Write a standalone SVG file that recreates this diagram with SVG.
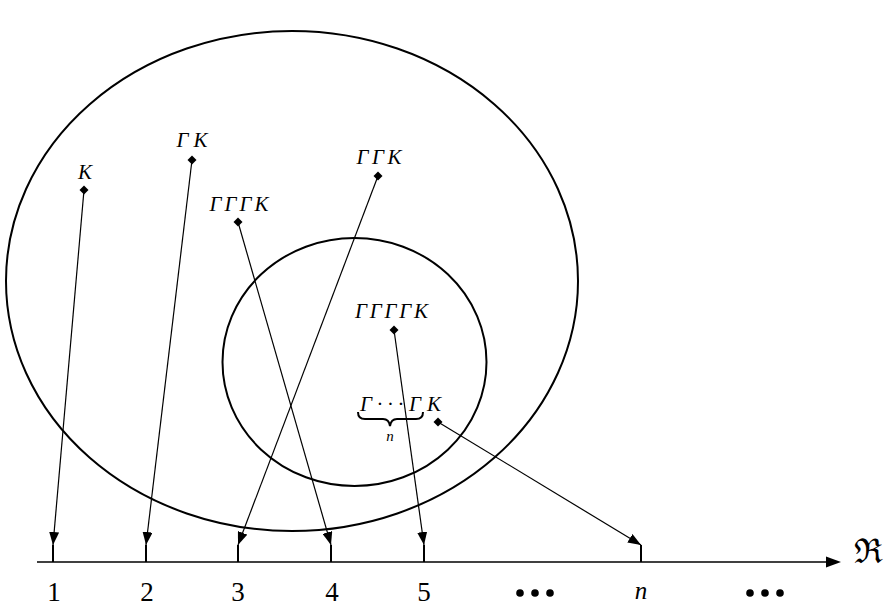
<svg xmlns="http://www.w3.org/2000/svg" width="888" height="609" viewBox="0 0 888 609">
<style>
.t{font-family:"Liberation Serif","Times New Roman","DejaVu Serif",serif;font-style:italic;font-size:21px;fill:#000;text-anchor:middle}
.num{font-family:"Liberation Serif","Times New Roman","DejaVu Serif",serif;font-size:27px;fill:#000;text-anchor:middle}
.c{fill:none;stroke:#000;stroke-width:2}
.l{stroke:#000;stroke-width:1.2;fill:none}
.tick{stroke:#000;stroke-width:2}
</style>
<defs>
<marker id="ah" viewBox="0 0 13 10" refX="13" refY="5" markerWidth="13" markerHeight="10" markerUnits="userSpaceOnUse" orient="auto">
<path d="M0,0 L13,5 L0,10 Z" fill="#000"/>
</marker>
<path id="dm" d="M0,-4.5 L4.5,0 L0,4.5 L-4.5,0 Z" fill="#000"/>
</defs>
<rect width="888" height="609" fill="#fff"/>
<g id="sets">
<ellipse class="c" cx="292" cy="281" rx="286" ry="250"/>
<ellipse class="c" cx="354.5" cy="362" rx="132" ry="124"/>
</g>
<g id="axis">
<line x1="37" y1="562" x2="832" y2="562" stroke="#000" stroke-width="1.5"/>
<path d="M826,556.5 L841,562 L826,567.5 Z" fill="#000"/>
<text x="868" y="563" font-family="'DejaVu Serif',serif" font-size="34" text-anchor="middle">ℜ</text>
<line class="tick" x1="53" y1="545" x2="53" y2="562"/>
<line class="tick" x1="146" y1="545" x2="146" y2="562"/>
<line class="tick" x1="238" y1="545" x2="238" y2="562"/>
<line class="tick" x1="331" y1="545" x2="331" y2="562"/>
<line class="tick" x1="424" y1="545" x2="424" y2="562"/>
<line class="tick" x1="641" y1="545" x2="641" y2="562"/>
<text class="num" x="54" y="601">1</text>
<text class="num" x="147" y="601">2</text>
<text class="num" x="238" y="601">3</text>
<text class="num" x="332" y="601">4</text>
<text class="num" x="424" y="601">5</text>
<g fill="#000"><circle cx="520" cy="593" r="3.8"/><circle cx="535" cy="593" r="3.8"/><circle cx="550" cy="593" r="3.8"/><circle cx="750" cy="593" r="3.8"/><circle cx="765" cy="593" r="3.8"/><circle cx="780" cy="593" r="3.8"/></g>
<text class="t" x="641" y="599" style="font-size:25px">n</text>
</g>
<g id="connectors">
<line class="l" x1="84" y1="190" x2="53" y2="545" marker-end="url(#ah)"/>
<line class="l" x1="192" y1="160" x2="146" y2="545" marker-end="url(#ah)"/>
<line class="l" x1="378" y1="176" x2="238" y2="545" marker-end="url(#ah)"/>
<line class="l" x1="238" y1="222" x2="331" y2="545" marker-end="url(#ah)"/>
<line class="l" x1="394" y1="330" x2="424" y2="545" marker-end="url(#ah)"/>
<line class="l" x1="438" y1="422" x2="641" y2="545" marker-end="url(#ah)"/>
</g>
<g id="n-K"><use href="#dm" x="84" y="190"/><text class="t" x="85" y="179" textLength="17" lengthAdjust="spacing">K</text></g>
<g id="n-GK"><use href="#dm" x="192" y="160"/><text class="t" x="192" y="147" textLength="31" lengthAdjust="spacing">ΓK</text></g>
<g id="n-GGGK"><use href="#dm" x="238" y="222"/><text class="t" x="239" y="211" textLength="59" lengthAdjust="spacing">ΓΓΓK</text></g>
<g id="n-GGK"><use href="#dm" x="378" y="176"/><text class="t" x="379" y="164" textLength="45" lengthAdjust="spacing">ΓΓK</text></g>
<g id="n-GGGGK"><use href="#dm" x="394" y="330"/><text class="t" x="391.5" y="318" textLength="73" lengthAdjust="spacing">ΓΓΓΓK</text></g>
<g id="n-GnK"><use href="#dm" x="438" y="422"/>
<text class="t" x="366" y="411">Γ</text>
<text class="t" x="390" y="411">· · ·</text>
<text class="t" x="415" y="411">Γ</text>
<text class="t" x="434" y="411">K</text>
<path d="M358,412 Q358,419 365,419 L383,419 Q389,419 390,426 Q391,419 397,419 L416,419 Q423,419 423,412" fill="none" stroke="#000" stroke-width="2"/>
<text class="t" x="390" y="441" style="font-size:15px">n</text>
</g>
</svg>
